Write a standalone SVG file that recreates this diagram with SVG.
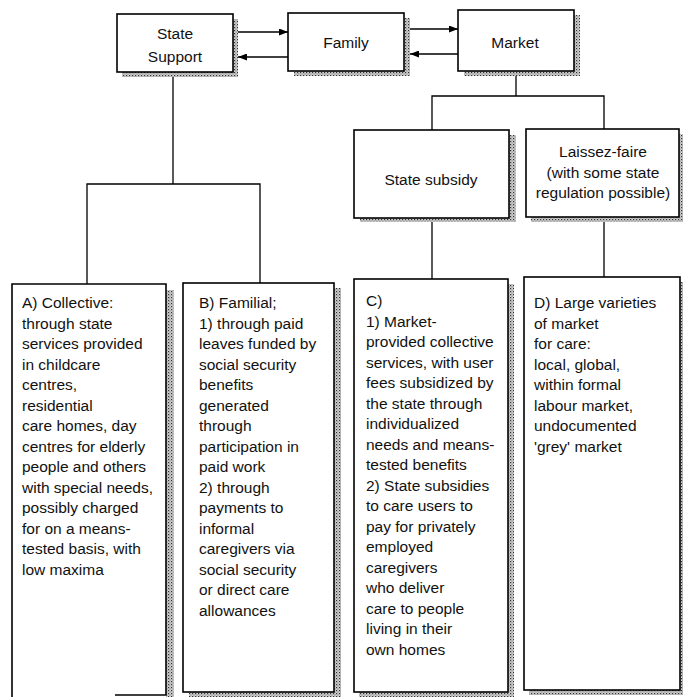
<svg xmlns="http://www.w3.org/2000/svg" width="683" height="697" viewBox="0 0 683 697">
<defs>
<pattern id="stipple" width="3" height="3" patternUnits="userSpaceOnUse">
<rect width="3" height="3" fill="#d0d0d0"/>
<rect x="0" y="0" width="1.2" height="1.2" fill="#333"/>
<rect x="1.5" y="1.5" width="1" height="1" fill="#666"/>
</pattern>
<marker id="arr" viewBox="0 0 9 7" refX="9" refY="3.5" markerWidth="9" markerHeight="7" markerUnits="userSpaceOnUse" orient="auto">
<path d="M0,0 L9,3.5 L0,7 z" fill="#000"/>
</marker>
</defs>
<style>
.box{fill:#fff;stroke:#000;stroke-width:1.6}
.shadow{fill:url(#stipple);stroke:none}
.ln{fill:none;stroke:#000;stroke-width:1.3}
.t{font-family:"Liberation Sans",Arial,sans-serif;font-size:15.5px;fill:#111}
.c{text-anchor:middle}
</style>
<rect width="683" height="697" fill="#fff"/>

<g id="connectors">
<line class="ln" x1="238" y1="32" x2="288" y2="32" marker-end="url(#arr)"/>
<line class="ln" x1="288" y1="57" x2="238" y2="57" marker-end="url(#arr)"/>
<line class="ln" x1="410" y1="29" x2="458" y2="29" marker-end="url(#arr)"/>
<line class="ln" x1="458" y1="54" x2="410" y2="54" marker-end="url(#arr)"/>
<polyline class="ln" points="173,77 173,184"/>
<polyline class="ln" points="87,284 87,184 260,184 260,283"/>
<polyline class="ln" points="516,76 516,96"/>
<polyline class="ln" points="432,130 432,96 604,96 604,129"/>
<polyline class="ln" points="432,222 432,279"/>
<polyline class="ln" points="604,222 604,277"/>
</g>

<g id="state-support">
<rect class="shadow" x="122" y="19" width="116" height="58"/>
<rect class="box" x="117" y="14" width="116" height="58"/>
<text class="t c" x="175" y="39">State</text>
<text class="t c" x="175" y="62">Support</text>
</g>

<g id="family">
<rect class="shadow" x="294" y="18" width="116" height="58"/>
<rect class="box" x="288" y="13" width="116" height="58"/>
<text class="t c" x="346" y="48">Family</text>
</g>

<g id="market">
<rect class="shadow" x="464" y="15" width="116" height="61"/>
<rect class="box" x="458" y="10" width="116" height="61"/>
<text class="t c" x="515" y="48">Market</text>
</g>

<g id="state-subsidy">
<rect class="shadow" x="360" y="135" width="156" height="87"/>
<rect class="box" x="354" y="130" width="155" height="88"/>
<text class="t c" x="431" y="185">State subsidy</text>
</g>

<g id="laissez-faire">
<rect class="shadow" x="531" y="134" width="152" height="88"/>
<rect class="box" x="526" y="129" width="153" height="88"/>
<text class="t c" x="603" y="157">Laissez-faire</text>
<text class="t c" x="603" y="177.5">(with some state</text>
<text class="t c" x="603" y="198">regulation possible)</text>
</g>

<g id="box-a">
<rect class="shadow" x="166" y="290" width="8" height="407"/>
<path d="M12,697 L12,284 L166,284 L166,695 L115,695" fill="#fff" stroke="#000" stroke-width="1.6"/>
<text class="t" x="22">
<tspan x="22" y="308">A) Collective:</tspan>
<tspan x="22" y="328.5">through state</tspan>
<tspan x="22" y="349">services provided</tspan>
<tspan x="22" y="369.5">in childcare</tspan>
<tspan x="22" y="390">centres,</tspan>
<tspan x="22" y="410.5">residential</tspan>
<tspan x="22" y="431">care homes, day</tspan>
<tspan x="22" y="451.5">centres for elderly</tspan>
<tspan x="22" y="472">people and others</tspan>
<tspan x="22" y="492.5">with special needs,</tspan>
<tspan x="22" y="513">possibly charged</tspan>
<tspan x="22" y="533.5">for on a means-</tspan>
<tspan x="22" y="554">tested basis, with</tspan>
<tspan x="22" y="574.5">low maxima</tspan>
</text>
</g>

<g id="box-b">
<rect class="shadow" x="189" y="288" width="152" height="409"/>
<rect class="box" x="183" y="283" width="151" height="409"/>
<text class="t">
<tspan x="199" y="308">B) Familial;</tspan>
<tspan x="199" y="328.5">1) through paid</tspan>
<tspan x="199" y="349">leaves funded by</tspan>
<tspan x="199" y="369.5">social security</tspan>
<tspan x="199" y="390">benefits</tspan>
<tspan x="199" y="410.5">generated</tspan>
<tspan x="199" y="431">through</tspan>
<tspan x="199" y="451.5">participation in</tspan>
<tspan x="199" y="472">paid work</tspan>
<tspan x="199" y="492.5">2) through</tspan>
<tspan x="199" y="513">payments to</tspan>
<tspan x="199" y="533.5">informal</tspan>
<tspan x="199" y="554">caregivers via</tspan>
<tspan x="199" y="574.5">social security</tspan>
<tspan x="199" y="595">or direct care</tspan>
<tspan x="199" y="615.5">allowances</tspan>
</text>
</g>

<g id="box-c">
<rect class="shadow" x="359" y="284" width="155" height="413"/>
<rect class="box" x="354" y="279" width="154" height="413"/>
<text class="t">
<tspan x="366" y="306">C)</tspan>
<tspan x="366" y="326.5">1) Market-</tspan>
<tspan x="366" y="347">provided collective</tspan>
<tspan x="366" y="367.5">services, with user</tspan>
<tspan x="366" y="388">fees subsidized by</tspan>
<tspan x="366" y="408.5">the state through</tspan>
<tspan x="366" y="429">individualized</tspan>
<tspan x="366" y="449.5">needs and means-</tspan>
<tspan x="366" y="470">tested benefits</tspan>
<tspan x="366" y="490.5">2) State subsidies</tspan>
<tspan x="366" y="511">to care users to</tspan>
<tspan x="366" y="531.5">pay for privately</tspan>
<tspan x="366" y="552">employed</tspan>
<tspan x="366" y="572.5">caregivers</tspan>
<tspan x="366" y="593">who deliver</tspan>
<tspan x="366" y="613.5">care to people</tspan>
<tspan x="366" y="634">living in their</tspan>
<tspan x="366" y="654.5">own homes</tspan>
</text>
</g>

<g id="box-d">
<rect class="shadow" x="529" y="282" width="154" height="413"/>
<rect class="box" x="524" y="277" width="156" height="413"/>
<text class="t">
<tspan x="534" y="308">D) Large varieties</tspan>
<tspan x="534" y="328.5">of market</tspan>
<tspan x="534" y="349">for care:</tspan>
<tspan x="534" y="369.5">local, global,</tspan>
<tspan x="534" y="390">within formal</tspan>
<tspan x="534" y="410.5">labour market,</tspan>
<tspan x="534" y="431">undocumented</tspan>
<tspan x="534" y="451.5">'grey' market</tspan>
</text>
</g>
</svg>
